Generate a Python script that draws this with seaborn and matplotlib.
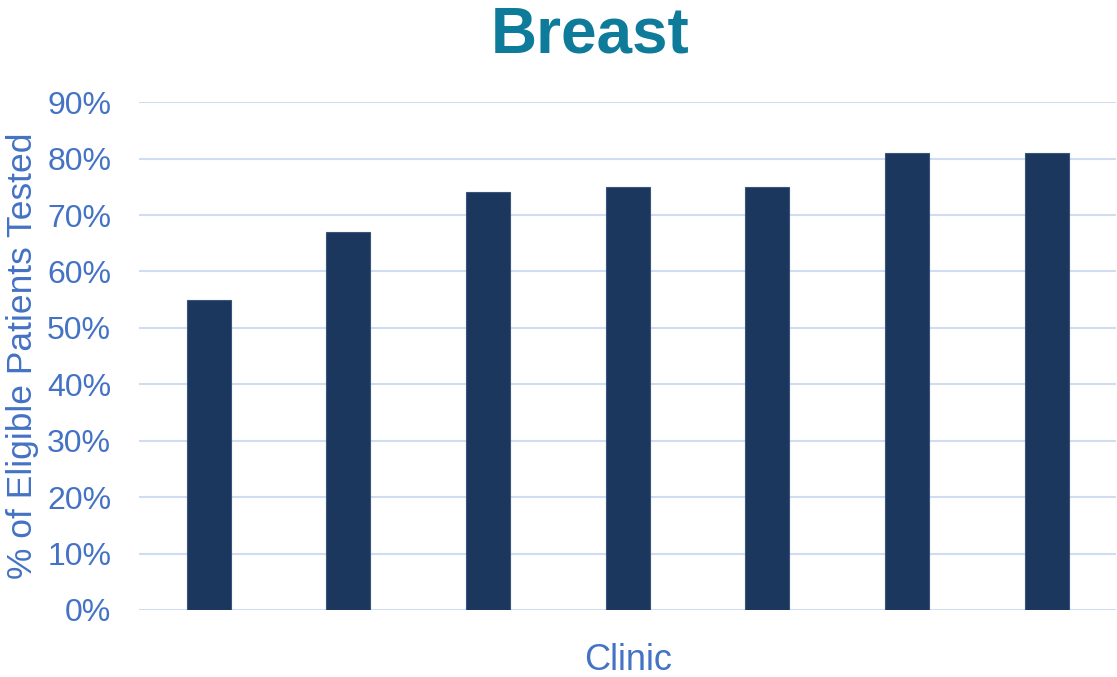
import matplotlib
matplotlib.use("Agg")
import matplotlib.pyplot as plt
import seaborn as sns
import pandas as pd
from matplotlib.ticker import PercentFormatter

clinics = ["A", "B", "C", "D", "E", "F", "G"]
pct_tested = [0.55, 0.67, 0.74, 0.75, 0.75, 0.81, 0.81]
y_ticks = [0.0, 0.1, 0.2, 0.3, 0.4, 0.5, 0.6, 0.7, 0.8, 0.9]

sns.set_theme(style="white")
plt.rcParams["font.family"] = ["Liberation Sans", "DejaVu Sans"]

df = pd.DataFrame({"Clinic": clinics, "pct": pct_tested})

fig = plt.figure(figsize=(11.17, 6.77), dpi=100)
ax = fig.add_axes([0.1244, 0.099, 0.875, 0.750])

sns.barplot(data=df, x="Clinic", y="pct", color="#1C375E", width=0.315,
            edgecolor="#3A557D", linewidth=0.8, saturation=1, ax=ax, zorder=3)

ax.set_ylim(0, 0.9)
ax.set_xlim(-0.5, len(clinics) - 0.5)
ax.set_yticks(y_ticks)
ax.yaxis.set_major_formatter(PercentFormatter(1.0, decimals=0))
ax.grid(axis="y", color="#D0DCF0", linewidth=1.5, zorder=0)
ax.set_axisbelow(True)
for s in ax.spines.values():
    s.set_visible(False)
ax.set_xticks(range(len(clinics)))
ax.set_xticklabels([])
ax.tick_params(axis="both", length=0)
ax.tick_params(axis="y", labelsize=23, labelcolor="#4472C4", pad=20)

ax.set_ylabel("% of Eligible Patients Tested", fontsize=25.5, color="#4472C4", labelpad=6)
ax.set_xlabel("Clinic", fontsize=26, color="#4472C4", labelpad=20)

fig.text(0.528, 0.948, "Breast", ha="center", va="center", fontsize=46,
         fontweight="bold", color="#0F7B9A")

fig.savefig("out.png", dpi=100)
